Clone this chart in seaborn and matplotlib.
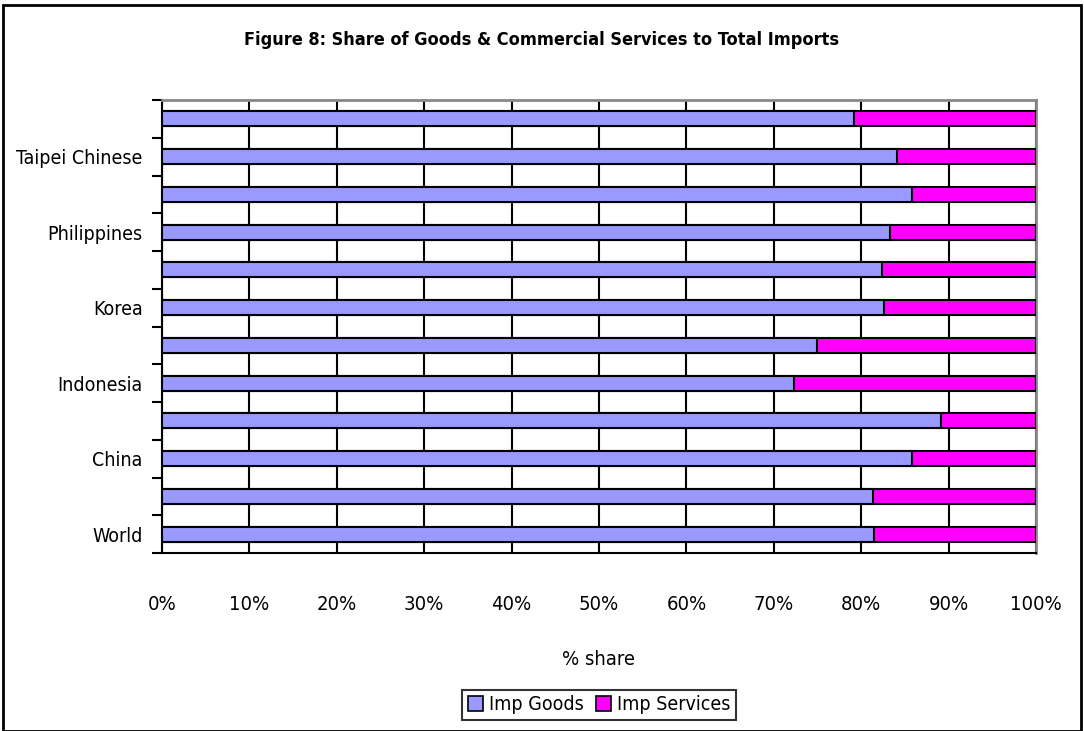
import matplotlib
matplotlib.use("Agg")
import matplotlib.pyplot as plt
import seaborn as sns
import pandas as pd
from matplotlib.patches import Rectangle, Patch
from matplotlib.ticker import FuncFormatter

# data, bottom to top as in the chart
economies = ["World", "East Asia", "China", "Hong Kong", "Indonesia", "Japan",
             "Korea", "Malaysia", "Philippines", "Singapore", "Taipei Chinese", "Thailand"]
imp_goods = [81.5, 81.3, 85.8, 89.1, 72.3, 74.9, 82.6, 82.4, 83.3, 85.8, 84.1, 79.2]
imp_services = [18.5, 18.7, 14.2, 10.9, 27.7, 25.1, 17.4, 17.6, 16.7, 14.2, 15.9, 20.8]
shown_labels = ["World", "China", "Indonesia", "Korea", "Philippines", "Taipei Chinese"]

sns.set_theme(style="white")
plt.rcParams['font.family'] = ['DejaVu Sans']
plt.rcParams['font.stretch'] = 'condensed'
plt.rcParams['text.color'] = 'black'
plt.rcParams['xtick.color'] = 'black'
plt.rcParams['ytick.color'] = 'black'
plt.rcParams['axes.labelcolor'] = 'black'

df = pd.DataFrame({"Economy": economies, "Goods": imp_goods, "Services": imp_services})
df["Total"] = df["Goods"] + df["Services"]
order = economies[::-1]

fig = plt.figure(figsize=(10.84, 7.31), dpi=100)
ax = fig.add_axes([162 / 1084, 1 - 553 / 731, 874 / 1084, 453 / 731])

# services drawn as full bar behind, goods on top
sns.barplot(data=df, x="Total", y="Economy", order=order, color="#FF00FF",
            saturation=1, width=0.4, edgecolor="black", linewidth=1.5, ax=ax, zorder=3)
sns.barplot(data=df, x="Goods", y="Economy", order=order, color="#9999FF",
            saturation=1, width=0.4, edgecolor="black", linewidth=1.5, ax=ax, zorder=4)

ax.set_xlim(0, 100)
ax.set_ylim(len(order) - 0.5, -0.5)
ax.set_xticks(range(0, 101, 10))
ax.xaxis.set_major_formatter(FuncFormatter(lambda v, p: f"{int(v)}%"))
ax.tick_params(axis="x", length=0, labelsize=14.5, pad=30)
ax.set_xlabel("% share", fontsize=14.5, labelpad=26)
ax.set_ylabel("")

# ticks at category boundaries, labels at every other category centre
ax.set_yticks([i - 0.5 for i in range(len(order) + 1)])
ax.set_yticklabels([])
ax.set_yticks(range(len(order)), minor=True)
ax.set_yticklabels([e if e in shown_labels else "" for e in order], minor=True)
ax.tick_params(axis="y", which="major", direction="out", length=7, width=1.5,
               color="black", left=True)
ax.tick_params(axis="y", which="minor", length=0, labelsize=14, pad=14)

ax.grid(axis="x", color="black", linewidth=1.5, zorder=0)
ax.set_axisbelow(True)
for side in ["left", "bottom"]:
    ax.spines[side].set_color("black")
    ax.spines[side].set_linewidth(1.5)
for side in ["top", "right"]:
    ax.spines[side].set_color("#888888")
    ax.spines[side].set_linewidth(2)

fig.text(0.5, 1 - 40 / 731, "Figure 8: Share of Goods & Commercial Services to Total Imports",
         ha="center", va="center", fontsize=13, fontweight="bold")

handles = [Patch(facecolor="#9999FF", edgecolor="black", linewidth=1.2, label="Imp Goods"),
           Patch(facecolor="#FF00FF", edgecolor="black", linewidth=1.2, label="Imp Services")]
leg = fig.legend(handles=handles, loc="center", bbox_to_anchor=(599 / 1084, 1 - 705 / 731),
                 ncol=2, fontsize=14, frameon=True, fancybox=False, handlelength=0.8,
                 handleheight=0.8, handletextpad=0.3, columnspacing=0.6, borderpad=0.3)
leg.get_frame().set_edgecolor("black")
leg.get_frame().set_linewidth(1.5)

fig.patches.append(Rectangle((0.003, 0.0), 0.994, 0.993, transform=fig.transFigure,
                             fill=False, edgecolor="black", linewidth=2))

fig.savefig("out.png", dpi=100)
